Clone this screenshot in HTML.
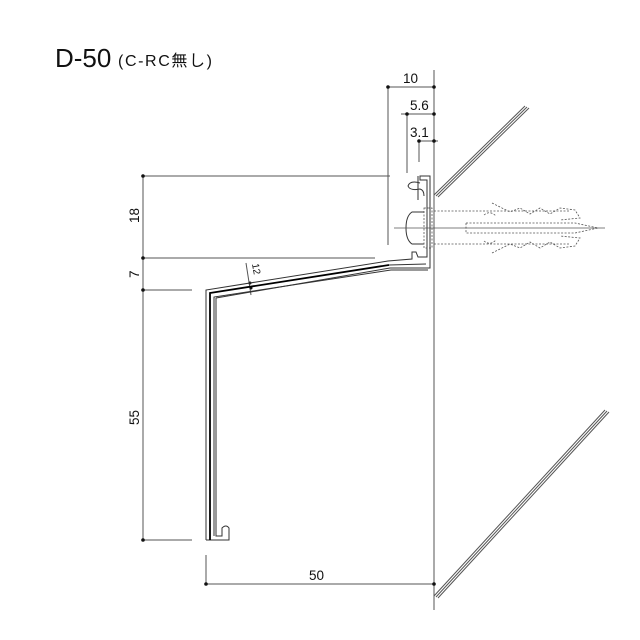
<!DOCTYPE html>
<html><head><meta charset="utf-8"><style>
html,body{margin:0;padding:0;background:#fff;width:640px;height:640px;overflow:hidden}
svg{display:block}
text{font-family:"Liberation Sans","Noto Sans CJK JP",sans-serif;fill:#111}
</style></head><body>
<svg width="640" height="640" viewBox="0 0 640 640">
<text x="55" y="67" font-size="26">D-50</text>
<text x="118" y="66" font-size="16" textLength="94">(C-RC無し)</text>
<g stroke="#555" stroke-width="1" fill="none">
<line x1="434" y1="70" x2="434" y2="610"/>
<line x1="388" y1="87" x2="434" y2="87"/>
<line x1="401" y1="114" x2="434" y2="114"/>
<line x1="419" y1="141" x2="438" y2="141"/>
<line x1="388" y1="87" x2="388" y2="245"/>
<line x1="407" y1="114" x2="407" y2="173"/>
<line x1="419" y1="141" x2="419" y2="162"/>
<line x1="143" y1="176" x2="143" y2="540"/>
<line x1="143" y1="176" x2="390" y2="176"/>
<line x1="143" y1="258" x2="375" y2="258"/>
<line x1="143" y1="290" x2="192" y2="290"/>
<line x1="143" y1="540" x2="192" y2="540"/>
<line x1="206" y1="555" x2="206" y2="584"/>
<line x1="206" y1="584" x2="434" y2="584"/>
<line x1="246" y1="263" x2="251" y2="295"/>
<line x1="434" y1="195" x2="525" y2="106"/>
<line x1="436" y1="196" x2="527" y2="107"/>
<line x1="438" y1="197" x2="529" y2="108"/>
<line x1="434" y1="596" x2="605" y2="410"/>
<line x1="436" y1="597" x2="607" y2="411"/>
<line x1="438" y1="598" x2="609" y2="412"/>
</g>
<g fill="#111">
<circle cx="388" cy="87" r="1.8"/><circle cx="434" cy="87" r="1.8"/>
<circle cx="407" cy="114" r="1.8"/><circle cx="434" cy="114" r="1.8"/>
<circle cx="419" cy="141" r="1.8"/><circle cx="434" cy="141" r="1.8"/>
<circle cx="143" cy="176" r="1.8"/><circle cx="143" cy="258" r="1.8"/>
<circle cx="143" cy="290" r="1.8"/><circle cx="143" cy="540" r="1.8"/>
<circle cx="206" cy="584" r="1.8"/><circle cx="434" cy="584" r="1.8"/>
<circle cx="250" cy="283" r="1.5"/><circle cx="251" cy="288" r="1.5"/>
</g>
<g stroke="#333" stroke-width="1" fill="none">
<path d="M206,540 L206,290 L388,261 L412,259 L412,252 L416,252 L418,257 L427,257 L427,180 L420,180 L420,176 L430,176 L430,268 L390,268 L216,298"/>
<path d="M210,538 L210,293 L389,265 L426,264"/>
<path d="M214,536 L214,297 L391,270 L428,270"/>
<path d="M216,298 L216,536 L222,536 L222,528 Q226,524 229,528 L229,540 L206,540"/>
<path d="M420,183 Q410,180 408,186 Q410,191 420,189 Q424,190 424,196" />
<path d="M424,212 L412,212 Q406,216 406,228 Q406,240 412,244 L424,244"/>
<line x1="418" y1="176" x2="418" y2="200"/>
</g>
<path d="M210,540 L210,293 L389,265" stroke="#000" stroke-width="1.8" fill="none"/>
<g stroke="#555" stroke-width="0.8" fill="none" stroke-dasharray="2,1.5">
<rect x="424" y="208" width="8" height="40"/>
<line x1="434" y1="211" x2="570" y2="211"/>
<line x1="434" y1="244" x2="570" y2="244"/>
<path d="M466,223 L575,223 L598,228 L575,233 L466,233 Z"/>
<path d="M492,203 L510,212 L520,208 L530,214 L540,208 L550,214 L560,208 L575,210 L580,218 L560,220"/>
<path d="M492,253 L510,244 L520,248 L530,242 L540,248 L550,242 L560,248 L575,246 L580,238 L560,236"/>
<path d="M484,215 Q490,210 496,216 M484,241 Q490,246 496,240"/>
</g>
<line x1="394" y1="228" x2="605" y2="228" stroke="#555" stroke-width="0.8"/>
<g font-size="13.5">
<text x="403" y="83">10</text>
<text x="410" y="110">5.6</text>
<text x="410" y="137">3.1</text>
<text x="309" y="580">50</text>
<text transform="translate(139,223) rotate(-90)">18</text>
<text transform="translate(139,278) rotate(-90)">7</text>
<text transform="translate(139,425) rotate(-90)">55</text>
<text transform="translate(252,264) rotate(80)" font-size="10">12</text>
</g>
</svg>
</body></html>
